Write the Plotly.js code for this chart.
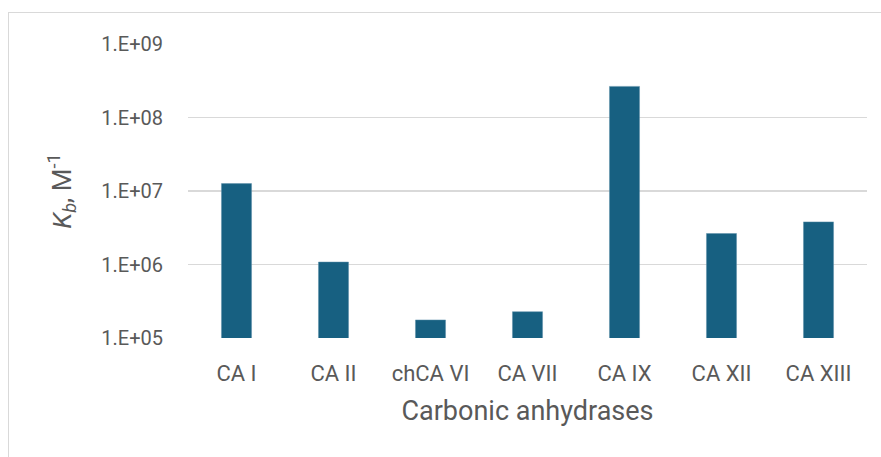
<!DOCTYPE html>
<html>
<head>
<meta charset="utf-8">
<script src="https://cdn.plot.ly/plotly-3.0.1.min.js"></script>
<style>
html,body{margin:0;padding:0;background:#fff;overflow:hidden;}
#frame{position:absolute;left:8px;top:12px;width:900px;height:470px;border:1px solid #d9d9d9;}
#chart{position:absolute;left:0;top:0;width:881px;height:457px;}
</style>
</head>
<body>
<div id="frame"></div>
<div id="chart"></div>
<script>
const categories = ["CA I", "CA II", "chCA VI", "CA VII", "CA IX", "CA XII", "CA XIII"];
const kbValues = [1.26e7, 1.08e6, 1.76e5, 2.28e5, 2.65e8, 2.64e6, 3.8e6];
const yTickVals = [1e5, 1e6, 1e7, 1e8, 1e9];
const yTickText = ["1.E+05", "1.E+06", "1.E+07", "1.E+08", "1.E+09"];

const fontFam = "Roboto, Liberation Sans, Arial, sans-serif";
const data = [{
  type: "bar",
  x: categories,
  y: kbValues,
  marker: {color: "#176081", line: {color: "#5d8fa8", width: 0.5}},
  hoverinfo: "x+y"
}];
const layout = {
  width: 881, height: 457,
  paper_bgcolor: "rgba(0,0,0,0)",
  plot_bgcolor: "rgba(0,0,0,0)",
  margin: {l: 188, r: 14, t: 43.5, b: 119},
  bargap: 0.69,
  showlegend: false,
  font: {family: fontFam, color: "#595959", size: 20},
  xaxis: {
    type: "category",
    showgrid: false, showline: false, zeroline: false,
    ticks: "", ticklabelstandoff: 20,
    tickfont: {size: 22, color: "#595959"},
    title: {text: "Carbonic anhydrases", font: {size: 27, color: "#595959"}, standoff: 16}
  },
  yaxis: {
    type: "log",
    range: [5, 9],
    tickvals: yTickVals, ticktext: yTickText,
    showgrid: true, gridcolor: "#d9d9d9", gridwidth: 1.3,
    showline: false, zeroline: false, ticks: "",
    ticklabelstandoff: 24,
    tickfont: {size: 20, color: "#595959"},
    title: {text: "<i>K</i><sub><i>b</i></sub>, M<sup>-1</sup>", font: {size: 26, color: "#595959"}, standoff: 22}
  }
};
Plotly.newPlot("chart", data, layout, {displayModeBar: false, staticPlot: true});
</script>
</body>
</html>
